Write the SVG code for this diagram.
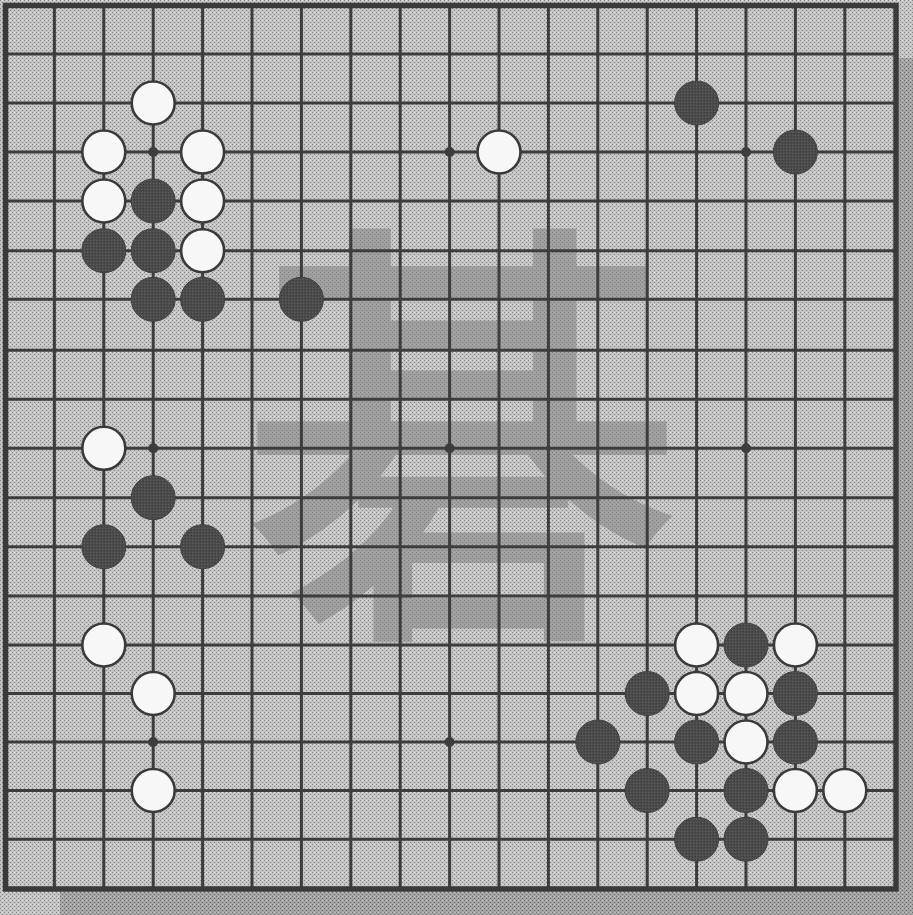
<svg xmlns="http://www.w3.org/2000/svg" width="913" height="915" viewBox="0 0 913 915">
  <defs>
    <pattern id="dither" x="0" y="0" width="4" height="4" patternUnits="userSpaceOnUse">
      <rect width="4" height="4" fill="#c4c4c4"/>
      <rect x="0" y="0" width="1" height="1" fill="#858585"/>
      <rect x="2" y="2" width="1" height="1" fill="#858585"/>
      <rect x="2" y="0" width="1" height="1" fill="#e2e2e2"/>
    </pattern>
    <pattern id="ditherDark" x="0" y="0" width="4" height="4" patternUnits="userSpaceOnUse">
      <rect width="4" height="4" fill="#a4a4a4"/>
      <rect x="0" y="0" width="1" height="1" fill="#6e6e6e"/>
      <rect x="2" y="2" width="1" height="1" fill="#6e6e6e"/>
      <rect x="2" y="0" width="1" height="1" fill="#c8c8c8"/>
    </pattern>
    <pattern id="stoneTex" x="0" y="0" width="3" height="3" patternUnits="userSpaceOnUse">
      <rect width="3" height="3" fill="#4b4b4b"/>
      <rect x="0" y="0" width="1" height="1" fill="#5e5e5e"/>
      <rect x="2" y="1" width="1" height="1" fill="#3c3c3c"/>
    </pattern>
  </defs>
  <style>
    .grid line { stroke: #3d3d3d; stroke-width: 3; }
    .star { fill: #3d3d3d; }
    .black { fill: url(#stoneTex); stroke: #404040; stroke-width: 1; }
    .white { fill: #f7f7f7; stroke: #3a3a3a; stroke-width: 2.6; }
    .kanji { font-family: "Noto Sans CJK JP", "Noto Sans CJK SC", sans-serif; font-weight: 500; font-size: 445px; fill: #7a7a7a; fill-opacity: 0.5; }
  </style>

  <!-- background & shadow -->
  <rect width="913" height="915" fill="url(#dither)"/>
  <rect x="899" y="58" width="14" height="857" fill="url(#ditherDark)"/>
  <rect x="60" y="892" width="853" height="23" fill="url(#ditherDark)"/>

  <!-- calligraphy watermark -->
  <text class="kanji" x="462" y="604" text-anchor="middle">碁</text>

  <!-- connectors: board grid -->
  <g id="grid" class="grid">
    <line x1="54.4" y1="5" x2="54.4" y2="889"/>
    <line x1="103.8" y1="5" x2="103.8" y2="889"/>
    <line x1="153.2" y1="5" x2="153.2" y2="889"/>
    <line x1="202.6" y1="5" x2="202.6" y2="889"/>
    <line x1="252" y1="5" x2="252" y2="889"/>
    <line x1="301.4" y1="5" x2="301.4" y2="889"/>
    <line x1="350.8" y1="5" x2="350.8" y2="889"/>
    <line x1="400.2" y1="5" x2="400.2" y2="889"/>
    <line x1="449.6" y1="5" x2="449.6" y2="889"/>
    <line x1="499" y1="5" x2="499" y2="889"/>
    <line x1="548.4" y1="5" x2="548.4" y2="889"/>
    <line x1="597.8" y1="5" x2="597.8" y2="889"/>
    <line x1="647.2" y1="5" x2="647.2" y2="889"/>
    <line x1="696.6" y1="5" x2="696.6" y2="889"/>
    <line x1="746" y1="5" x2="746" y2="889"/>
    <line x1="795.4" y1="5" x2="795.4" y2="889"/>
    <line x1="844.8" y1="5" x2="844.8" y2="889"/>
    <line x1="5" y1="54" x2="896" y2="54"/>
    <line x1="5" y1="103" x2="896" y2="103"/>
    <line x1="5" y1="152" x2="896" y2="152"/>
    <line x1="5" y1="201" x2="896" y2="201"/>
    <line x1="5" y1="250.7" x2="896" y2="250.7"/>
    <line x1="5" y1="299.3" x2="896" y2="299.3"/>
    <line x1="5" y1="350.3" x2="896" y2="350.3"/>
    <line x1="5" y1="399.3" x2="896" y2="399.3"/>
    <line x1="5" y1="448.3" x2="896" y2="448.3"/>
    <line x1="5" y1="497.7" x2="896" y2="497.7"/>
    <line x1="5" y1="546.7" x2="896" y2="546.7"/>
    <line x1="5" y1="596" x2="896" y2="596"/>
    <line x1="5" y1="645" x2="896" y2="645"/>
    <line x1="5" y1="693.5" x2="896" y2="693.5"/>
    <line x1="5" y1="742" x2="896" y2="742"/>
    <line x1="5" y1="790.5" x2="896" y2="790.5"/>
    <line x1="5" y1="839.2" x2="896" y2="839.2"/>
    <rect x="5.5" y="5.5" width="890.5" height="883.5" fill="none" stroke="#3a3a3a" stroke-width="5.5"/>
  </g>

  <!-- star points -->
  <g id="stars" class="star">
    <circle cx="153.2" cy="152" r="5"/>
    <circle cx="449.6" cy="152" r="5"/>
    <circle cx="746" cy="152" r="5"/>
    <circle cx="153.2" cy="448.3" r="5"/>
    <circle cx="449.6" cy="448.3" r="5"/>
    <circle cx="746" cy="448.3" r="5"/>
    <circle cx="153.2" cy="742" r="5"/>
    <circle cx="449.6" cy="742" r="5"/>
    <circle cx="746" cy="742" r="5"/>
  </g>

  <!-- upper left group -->
  <g id="w-c3-r2"><circle class="white" cx="153.2" cy="103" r="21.5"/></g>
  <g id="w-c2-r3"><circle class="white" cx="103.8" cy="152" r="21.5"/></g>
  <g id="w-c4-r3"><circle class="white" cx="202.6" cy="152" r="21.5"/></g>
  <g id="w-c2-r4"><circle class="white" cx="103.8" cy="201" r="21.5"/></g>
  <g id="b-c3-r4"><circle class="black" cx="153.2" cy="201" r="22"/></g>
  <g id="w-c4-r4"><circle class="white" cx="202.6" cy="201" r="21.5"/></g>
  <g id="b-c2-r5"><circle class="black" cx="103.8" cy="250.7" r="22"/></g>
  <g id="b-c3-r5"><circle class="black" cx="153.2" cy="250.7" r="22"/></g>
  <g id="w-c4-r5"><circle class="white" cx="202.6" cy="250.7" r="21.5"/></g>
  <g id="b-c3-r6"><circle class="black" cx="153.2" cy="299.3" r="22"/></g>
  <g id="b-c4-r6"><circle class="black" cx="202.6" cy="299.3" r="22"/></g>
  <g id="b-c6-r6"><circle class="black" cx="301.4" cy="299.3" r="22"/></g>

  <!-- top -->
  <g id="w-c10-r3"><circle class="white" cx="499" cy="152" r="21.5"/></g>
  <g id="b-c14-r2"><circle class="black" cx="696.6" cy="103" r="22"/></g>
  <g id="b-c16-r3"><circle class="black" cx="795.4" cy="152" r="22"/></g>

  <!-- left side -->
  <g id="w-c2-r9"><circle class="white" cx="103.8" cy="448.3" r="21.5"/></g>
  <g id="b-c3-r10"><circle class="black" cx="153.2" cy="497.7" r="22"/></g>
  <g id="b-c2-r11"><circle class="black" cx="103.8" cy="546.7" r="22"/></g>
  <g id="b-c4-r11"><circle class="black" cx="202.6" cy="546.7" r="22"/></g>
  <g id="w-c2-r13"><circle class="white" cx="103.8" cy="645" r="21.5"/></g>
  <g id="w-c3-r14"><circle class="white" cx="153.2" cy="693.5" r="21.5"/></g>
  <g id="w-c3-r16"><circle class="white" cx="153.2" cy="790.5" r="21.5"/></g>

  <!-- lower right group -->
  <g id="w-c14-r13"><circle class="white" cx="696.6" cy="645" r="21.5"/></g>
  <g id="b-c15-r13"><circle class="black" cx="746" cy="645" r="22"/></g>
  <g id="w-c16-r13"><circle class="white" cx="795.4" cy="645" r="21.5"/></g>
  <g id="b-c13-r14"><circle class="black" cx="647.2" cy="693.5" r="22"/></g>
  <g id="w-c14-r14"><circle class="white" cx="696.6" cy="693.5" r="21.5"/></g>
  <g id="w-c15-r14"><circle class="white" cx="746" cy="693.5" r="21.5"/></g>
  <g id="b-c16-r14"><circle class="black" cx="795.4" cy="693.5" r="22"/></g>
  <g id="b-c12-r15"><circle class="black" cx="597.8" cy="742" r="22"/></g>
  <g id="b-c14-r15"><circle class="black" cx="696.6" cy="742" r="22"/></g>
  <g id="w-c15-r15"><circle class="white" cx="746" cy="742" r="21.5"/></g>
  <g id="b-c16-r15"><circle class="black" cx="795.4" cy="742" r="22"/></g>
  <g id="b-c13-r16"><circle class="black" cx="647.2" cy="790.5" r="22"/></g>
  <g id="b-c15-r16"><circle class="black" cx="746" cy="790.5" r="22"/></g>
  <g id="w-c16-r16"><circle class="white" cx="795.4" cy="790.5" r="21.5"/></g>
  <g id="w-c17-r16"><circle class="white" cx="844.8" cy="790.5" r="21.5"/></g>
  <g id="b-c14-r17"><circle class="black" cx="696.6" cy="839.2" r="22"/></g>
  <g id="b-c15-r17"><circle class="black" cx="746" cy="839.2" r="22"/></g>
</svg>
